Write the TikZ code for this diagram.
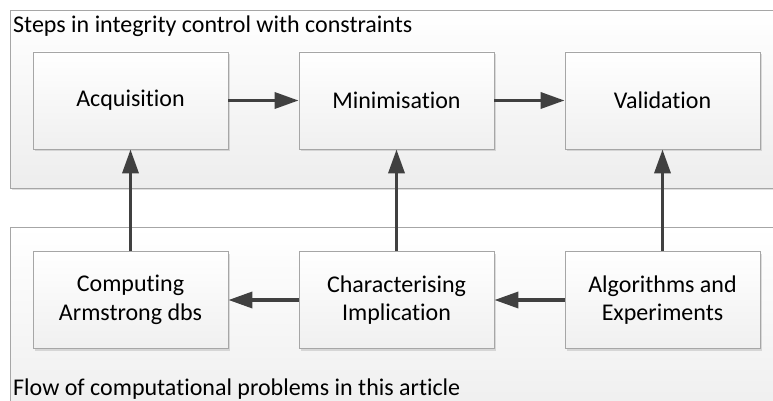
\documentclass[tikz,border=0pt]{standalone}
\usepackage{fontspec}
\setmainfont{Carlito}[Ligatures={NoCommon,NoContextual}]
\usetikzlibrary{arrows.meta,shadows}
\definecolor{arr}{HTML}{404040}
\definecolor{bord}{HTML}{A6A6A6}
\begin{document}
\begin{tikzpicture}[x=1pt,y=-1pt,
  txt/.style={font=\fontsize{24}{28.7}\selectfont},
  box/.style={txt, draw=bord, line width=0.8pt, top color=white, bottom color=gray!12,
    minimum width=195pt, minimum height=97pt, inner sep=0pt, align=center,
    drop shadow={shadow xshift=2pt,shadow yshift=-2pt,opacity=0.25,fill=gray}},
  group/.style={draw=bord, line width=0.8pt, top color=white, bottom color=gray!14,
    drop shadow={shadow xshift=2pt,shadow yshift=-2pt,opacity=0.25,fill=gray}},
  conn/.style={draw=arr, line width=3.5pt, -{Triangle[length=24pt,width=16pt]}}
]
\useasboundingbox (0,0) rectangle (773,401);
\clip (0,0) rectangle (773,401);
\fill[white] (0,0) rectangle (773,401);
% containers
\path[group] (10,10) rectangle (800,188);
\path[group] (10,227) rectangle (800,430);
\node[txt, anchor=base west, inner sep=0pt] (t1) at (13,33) {Steps in integrity control with constraints};
\node[txt, anchor=base west, inner sep=0pt] (t2) at (13,395) {Flow of computational problems in this article};
% boxes
\node[box] (acq) at (130.5,100.5) {Acquisition};
\node[box] (min) at (396.5,100.5) {Minimisation};
\node[box] (val) at (662.5,100.5) {Validation};
\node[box] (comp) at (130.5,300) {Computing\\Armstrong dbs};
\node[box] (char) at (396.5,300) {Characterising\\Implication};
\node[box] (alg) at (662.5,300) {Algorithms and\\Experiments};
% connectors
\draw[conn] (acq) -- (min);
\draw[conn] (min) -- (val);
\draw[conn] (comp) -- (acq);
\draw[conn] (char) -- (min);
\draw[conn] (alg) -- (val);
\draw[conn] (char) -- (comp);
\draw[conn] (alg) -- (char);
\end{tikzpicture}
\end{document}
